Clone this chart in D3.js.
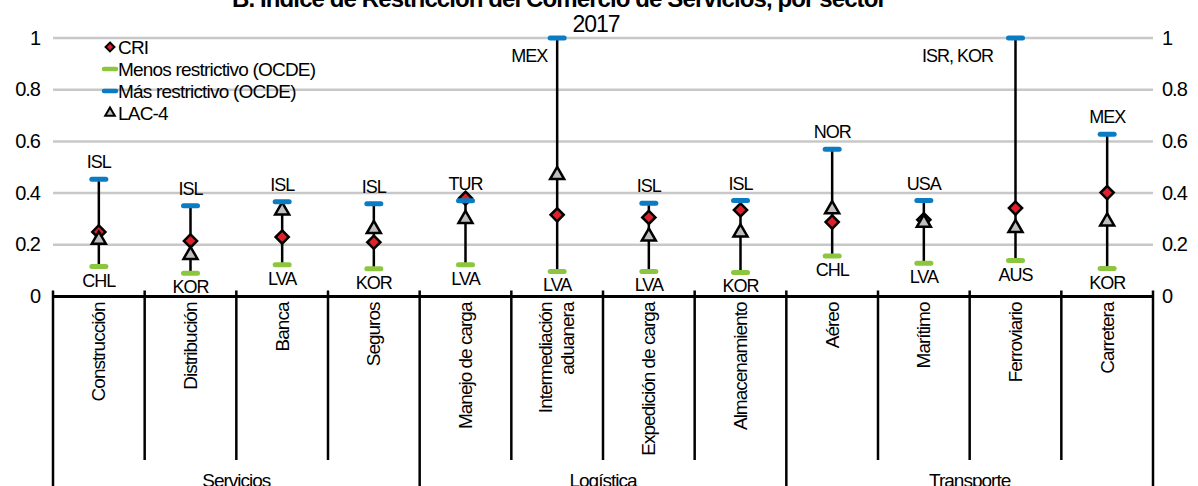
<!DOCTYPE html>
<html>
<head>
<meta charset="utf-8">
<script src="https://cdn.jsdelivr.net/npm/d3@7"></script>
<style>
	body { margin: 0; background: #fff; }
	svg text { font-family: "Liberation Sans", Arial, sans-serif; letter-spacing: -1px; fill: #000; }
</style>
</head>
<body>
<div id="chart"></div>
<script>
// Data
var sectors = ["Construcción", "Distribución", "Banca", "Seguros", "Manejo de carga",
	"Intermediación aduanera", "Expedición de carga", "Almacenamiento",
	"Aéreo", "Marítimo", "Ferroviario", "Carretera"];
var groups = ["Servicios", "Logística", "Transporte"];
var groupSize = [4, 4, 4];
var cri = [0.25, 0.215, 0.23, 0.21, 0.38, 0.316, 0.306, 0.335, 0.288, 0.297, 0.342, 0.402];
var lac4 = [0.22, 0.161, 0.333, 0.261, 0.30, 0.47, 0.232, 0.248, 0.338, 0.285, 0.265, 0.29];
var minOcde = [0.116, 0.09, 0.123, 0.107, 0.123, 0.097, 0.097, 0.093, 0.157, 0.129, 0.139, 0.108];
var maxOcde = [0.454, 0.351, 0.367, 0.359, 0.37, 1.0, 0.361, 0.371, 0.57, 0.371, 1.0, 0.628];
var minLabel = ["CHL", "KOR", "LVA", "KOR", "LVA", "LVA", "LVA", "KOR", "CHL", "LVA", "AUS", "KOR"];
var maxLabel = ["ISL", "ISL", "ISL", "ISL", "TUR", "MEX", "ISL", "ISL", "NOR", "USA", "ISR, KOR", "MEX"];
var yTicks = [0, 0.2, 0.4, 0.6, 0.8, 1];

var width = 1198,
	height = 486,
	plotLeft = 53,
	plotRight = 1153,
	plotTop = 38,
	axisY = 296.5;

var colCri = "#e0202a",
	colMin = "#8cc63f",
	colMax = "#0a7cc4",
	colLac = "#bfbfbf";

var svg = d3.select("#chart").append("svg")
	.attr("width", width)
	.attr("height", height);

var x = d3.scaleBand()
	.domain(sectors)
	.range([plotLeft, plotRight]);

var y = d3.scaleLinear()
	.domain([0, 1])
	.range([axisY, plotTop]);

// Title (top line is cut off by the frame)
svg.append("text")
	.attr("x", 559).attr("y", 7)
	.attr("text-anchor", "middle")
	.style("font-size", "24px").style("font-weight", "bold")
	.style("letter-spacing", "-0.9px")
	.text("B. Índice de Restricción del Comercio de Servicios, por sector");
svg.append("text")
	.attr("x", 596).attr("y", 32)
	.attr("text-anchor", "middle")
	.style("font-size", "23px")
	.text("2017");

// Gridlines
svg.append("g")
	.selectAll("line")
	.data(yTicks.filter(function(d) { return d > 0; }))
	.enter().append("line")
	.attr("x1", plotLeft).attr("x2", plotRight)
	.attr("y1", y).attr("y2", y)
	.attr("stroke", "#c8c8c8")
	.attr("stroke-width", 2.5);

// Left and right y axes (labels only)
var fmt = function(d) { return d === 0 || d === 1 ? d : d3.format(".1f")(d); };
var yLeft = d3.axisLeft(y).tickValues(yTicks).tickSize(0).tickPadding(13).tickFormat(fmt);
var yRight = d3.axisRight(y).tickValues(yTicks).tickSize(0).tickPadding(9).tickFormat(fmt);

svg.append("g").attr("transform", "translate(" + plotLeft + ",0)").call(yLeft)
	.call(function(g) { g.select(".domain").remove(); })
	.selectAll("text").style("font-size", "20px").attr("dy", "0.3em");
svg.append("g").attr("transform", "translate(" + plotRight + ",0)").call(yRight)
	.call(function(g) { g.select(".domain").remove(); })
	.selectAll("text").style("font-size", "20px").attr("dy", "0.3em");

// Category separators below axis
var bounds = sectors.map(function(s) { return x(s); }).concat([plotRight]);
var groupBounds = [0];
groupSize.forEach(function(n, i) { groupBounds.push(groupBounds[i] + n); });

svg.append("g")
	.selectAll("line")
	.data(bounds)
	.enter().append("line")
	.attr("x1", function(d) { return d; })
	.attr("x2", function(d) { return d; })
	.attr("y1", axisY - 6)
	.attr("y2", function(d, i) { return groupBounds.indexOf(i) >= 0 ? height : 460; })
	.attr("stroke", "#000")
	.attr("stroke-width", 2.5);

svg.append("line")
	.attr("x1", plotLeft).attr("x2", plotRight)
	.attr("y1", axisY).attr("y2", axisY)
	.attr("stroke", "#000")
	.attr("stroke-width", 3);

// Category labels, rotated
var catLabels = svg.append("g")
	.selectAll("text")
	.data(sectors)
	.enter().append("text")
	.attr("transform", function(d) {
		return "translate(" + (x(d) + x.bandwidth() / 2) + "," + (axisY + 6) + ") rotate(-90)";
	})
	.attr("text-anchor", "end")
	.style("font-size", "19px");

catLabels.each(function(d) {
	var words = d === "Intermediación aduanera" ? ["Intermediación", "aduanera"] : [d];
	var t = d3.select(this);
	words.forEach(function(w, i) {
		t.append("tspan")
			.attr("x", 0)
			.attr("y", 0)
			.attr("dy", (words.length === 1 ? 0.35 : (i === 0 ? -0.25 : 0.9)) + "em")
			.text(w);
	});
});

// Group labels
svg.append("g")
	.selectAll("text")
	.data(groups)
	.enter().append("text")
	.attr("x", function(d, i) {
		return (bounds[groupBounds[i]] + bounds[groupBounds[i + 1]]) / 2;
	})
	.attr("y", 487)
	.attr("text-anchor", "middle")
	.style("font-size", "19px")
	.text(function(d) { return d; });

// Stems from min to max
var cx = function(i) { return x(sectors[i]) + x.bandwidth() / 2; };

svg.append("g")
	.selectAll("line")
	.data(sectors)
	.enter().append("line")
	.attr("x1", function(d, i) { return cx(i); })
	.attr("x2", function(d, i) { return cx(i); })
	.attr("y1", function(d, i) { return y(minOcde[i]); })
	.attr("y2", function(d, i) { return y(maxOcde[i]); })
	.attr("stroke", "#000")
	.attr("stroke-width", 2.5);

// CRI diamonds
var diamond = d3.symbol().type(d3.symbolDiamond2).size(110);
svg.append("g")
	.selectAll("path")
	.data(cri)
	.enter().append("path")
	.attr("d", diamond)
	.attr("transform", function(d, i) { return "translate(" + cx(i) + "," + y(d) + ")"; })
	.attr("fill", colCri)
	.attr("stroke", "#000")
	.attr("stroke-width", 2.5);

// LAC-4 triangles
var triangle = d3.symbol().type(d3.symbolTriangle).size(85);
svg.append("g")
	.selectAll("path")
	.data(lac4)
	.enter().append("path")
	.attr("d", triangle)
	.attr("transform", function(d, i) { return "translate(" + cx(i) + "," + y(d) + ")"; })
	.attr("fill", colLac)
	.attr("stroke", "#000")
	.attr("stroke-width", 2.5);

// Min and max dashes
function dashes(values, color) {
	svg.append("g")
		.selectAll("line")
		.data(values)
		.enter().append("line")
		.attr("x1", function(d, i) { return cx(i) - 7; })
		.attr("x2", function(d, i) { return cx(i) + 7; })
		.attr("y1", y).attr("y2", y)
		.attr("stroke", color)
		.attr("stroke-width", 5)
		.attr("stroke-linecap", "round");
}
dashes(minOcde, colMin);
dashes(maxOcde, colMax);

// Country labels
svg.append("g")
	.selectAll("text")
	.data(maxLabel)
	.enter().append("text")
	.attr("x", function(d, i) { return maxOcde[i] >= 1 ? cx(i) - 10 - d.length * 6 : cx(i); })
	.attr("y", function(d, i) { return maxOcde[i] >= 1 ? y(maxOcde[i]) + 24 : y(maxOcde[i]) - 11; })
	.attr("text-anchor", "middle")
	.style("font-size", "18px")
	.text(function(d) { return d; });

svg.append("g")
	.selectAll("text")
	.data(minLabel)
	.enter().append("text")
	.attr("x", function(d, i) { return cx(i); })
	.attr("y", function(d, i) { return y(minOcde[i]) + 20; })
	.attr("text-anchor", "middle")
	.style("font-size", "18px")
	.text(function(d) { return d; });

// Legend
var legendItems = ["CRI", "Menos restrictivo (OCDE)", "Más restrictivo (OCDE)", "LAC-4"];
var legend = svg.append("g")
	.attr("class", "legend")
	.selectAll("g")
	.data(legendItems)
	.enter().append("g")
	.attr("transform", function(d, i) { return "translate(110," + (47 + i * 22) + ")"; });

legend.each(function(d, i) {
	var g = d3.select(this);
	if (i === 0) {
		g.append("path").attr("d", d3.symbol().type(d3.symbolDiamond2).size(50))
			.attr("fill", colCri).attr("stroke", "#000").attr("stroke-width", 2);
	} else if (i === 3) {
		g.append("path").attr("d", d3.symbol().type(d3.symbolTriangle).size(40))
			.attr("fill", colLac).attr("stroke", "#000").attr("stroke-width", 2);
	} else {
		g.append("line").attr("x1", -6).attr("x2", 6)
			.attr("stroke", i === 1 ? colMin : colMax)
			.attr("stroke-width", 4.5).attr("stroke-linecap", "round");
	}
	g.append("text").attr("x", 8).attr("dy", "0.35em")
		.style("font-size", "19px").style("letter-spacing", "-0.8px").text(d);
});
</script>
</body>
</html>
